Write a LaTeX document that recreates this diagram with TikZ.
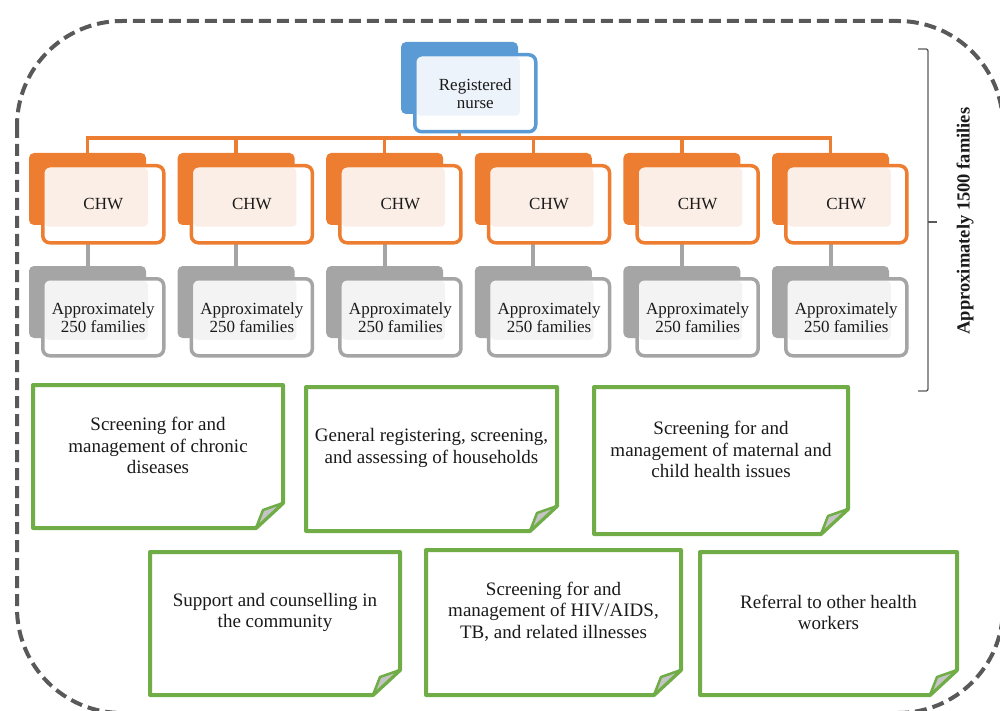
\documentclass[tikz,border=0pt]{standalone}
\usepackage{fontspec}
\setmainfont{Liberation Serif}
\usetikzlibrary{calc}
\definecolor{dashgray}{HTML}{595959}
\definecolor{orng}{HTML}{ED7D31}
\definecolor{orngtint}{HTML}{FBEEE6}
\definecolor{gry}{HTML}{A5A5A5}
\definecolor{grytint}{HTML}{F3F3F3}
\definecolor{blu}{HTML}{5B9BD5}
\definecolor{blutint}{HTML}{EDF3FA}
\definecolor{grn}{HTML}{70AD47}
\definecolor{foldgray}{HTML}{C4C4C4}
\definecolor{txt}{HTML}{1A1A1A}
\begin{document}
\begin{tikzpicture}[x=1pt,y=-1pt,
  backbox/.style={rectangle, rounded corners=5pt, minimum width=117pt, minimum height=72pt, inner sep=0pt, outer sep=0pt, draw=none, fill=#1, anchor=north west},
  frontbox/.style={rectangle, rounded corners=7pt, minimum width=121pt, minimum height=77pt, inner sep=0pt, line width=3.5pt, draw=#1, fill=white, align=center, anchor=north west, text=txt, font=\fontsize{17}{18}\selectfont},
  tinted/.style={path picture={\fill[#1, rounded corners=4pt] ($(path picture bounding box.north west)+(2,2)$) rectangle ($(path picture bounding box.north west)+(105,61)$);}},
  busline/.style={draw=orng, line width=3.5pt},
  grayline/.style={draw=gry, line width=4pt},
  notebox/.style={rectangle, inner sep=0pt, outer sep=0pt, draw=none},
  noteline/.style={draw=grn, line width=4pt, line join=round, fill=white},
  flap/.style={draw=grn, line width=2.5pt, line join=round, fill=foldgray},
  notetext/.style={align=center, text=txt, font=\fontsize{19}{21.5}\selectfont, inner sep=0pt},
  bracket/.style={draw=dashgray, line width=1.3pt}
]
\useasboundingbox (0,0) rectangle (1000,711);

% outer dashed frame
\draw[dashgray, line width=4pt, dash pattern=on 12pt off 6pt, rounded corners=105pt] (17,21) rectangle (1003,713);

% back rectangles
\node[backbox=blu] (nb) at (401,42) {};
\foreach \i in {1,...,6} {
  \pgfmathsetmacro\bx{29+148.6*(\i-1)}
  \node[backbox=orng] (cb\i) at (\bx,153) {};
  \node[backbox=gry] (gb\i) at (\bx,266) {};
}

% connectors
\coordinate (bus) at (0,138);
\draw[busline] (nb.south) -- (nb.south |- bus);
\draw[busline] (cb1.north) -- (cb1.north |- bus) -- (cb6.north |- bus) -- (cb6.north);
\foreach \i in {2,...,5} {
  \draw[busline] (cb\i.north |- bus) -- (cb\i.north);
}
\foreach \i in {1,...,6} {
  \draw[grayline] (cb\i.south) -- (gb\i.north);
}

% front boxes
\node[frontbox=blu, tinted=blutint] (nf) at (413,53) {Registered\\nurse};
\foreach \i in {1,...,6} {
  \pgfmathsetmacro\fx{29+148.6*(\i-1)+12}
  \node[frontbox=orng, tinted=orngtint] (cf\i) at (\fx,164) {CHW};
  \node[frontbox=gry, tinted=grytint] (gf\i) at (\fx,277) {Approximately\\250 families};
}

% bracket and label
\draw[bracket, rounded corners=2pt] (918,49) -- (928,49) -- (928,391) -- (918,391);
\draw[bracket] (928,222) -- (937,222);
\node[rotate=90, font=\bfseries\fontsize{18.5}{20}\selectfont, text=txt] (fam) at (965,221) {Approximately 1500 families};

% note boxes
\node[notebox, minimum width=250pt, minimum height=143pt] (g1) at (158,456.5) {};
\node[notebox, minimum width=251pt, minimum height=144pt] (g2) at (431.5,459) {};
\node[notebox, minimum width=254pt, minimum height=147pt] (g3) at (721,460.5) {};
\node[notebox, minimum width=250pt, minimum height=143pt] (g4) at (275,623.5) {};
\node[notebox, minimum width=255pt, minimum height=145pt] (g5) at (553.5,622.5) {};
\node[notebox, minimum width=257pt, minimum height=143pt] (g6) at (828.5,623.5) {};
\foreach \g in {g1,g2,g3,g4,g5,g6} {
  \draw[noteline] (\g.north west) -- (\g.north east) -- ($(\g.south east)+(0,-25)$) -- ($(\g.south east)+(-27,0)$) -- (\g.south west) -- cycle;
  \draw[flap] ($(\g.south east)+(0,-25)$) -- ($(\g.south east)+(-20,-18)$) -- ($(\g.south east)+(-27,0)$) -- cycle;
}
\node[notetext] (t1) at ($(g1.center)+(0,-11)$) {Screening for and\\management of chronic\\diseases};
\node[notetext] (t2) at ($(g2.center)+(0,-11)$) {General registering, screening,\\and assessing of households};
\node[notetext] (t3) at ($(g3.center)+(0,-11)$) {Screening for and\\management of maternal and\\child health issues};
\node[notetext] (t4) at ($(g4.center)+(0,-11)$) {Support and counselling in\\the community};
\node[notetext] (t5) at ($(g5.center)+(0,-11)$) {Screening for and\\management of HIV/AIDS,\\TB, and related illnesses};
\node[notetext] (t6) at ($(g6.center)+(0,-11)$) {Referral to other health\\workers};
\end{tikzpicture}
\end{document}
